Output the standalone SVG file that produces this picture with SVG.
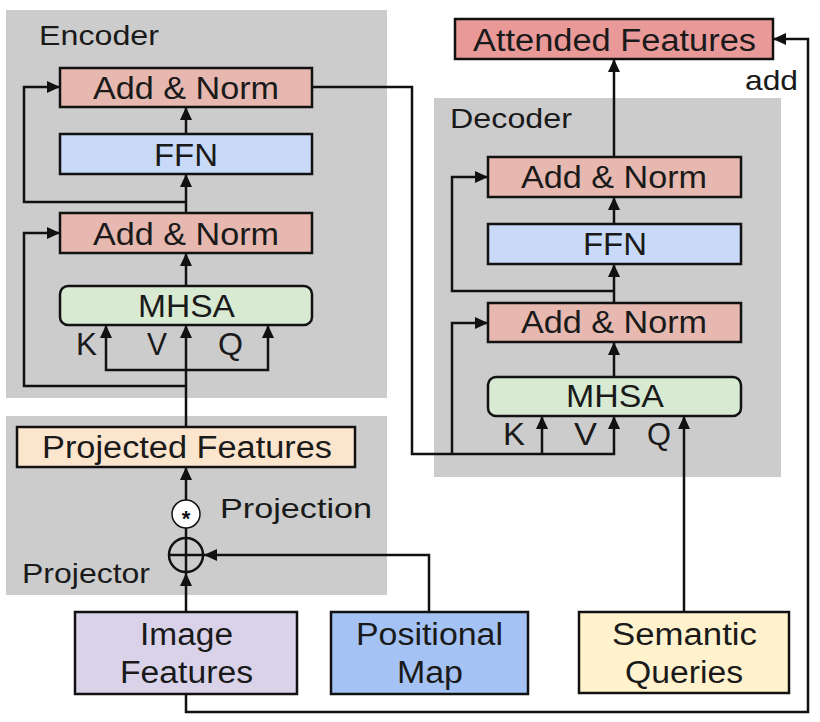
<svg xmlns="http://www.w3.org/2000/svg" width="820" height="722" viewBox="0 0 820 722">
<style>
.grp{fill:#cccccc}
.box{stroke:#111;stroke-width:2.5}
.an{fill:#e6b8af}
.ffn{fill:#c9daf8}
.mhsa{fill:#d9ead3}
.t{font-family:"Liberation Sans",Arial,sans-serif;font-size:31px;fill:#1a1a1a;text-anchor:middle}
.lbl{font-family:"Liberation Sans",Arial,sans-serif;font-size:28px;fill:#1a1a1a}
.c{fill:none;stroke:#111;stroke-width:2.5}
</style>
<defs>
<marker id="ah" markerUnits="userSpaceOnUse" markerWidth="14" markerHeight="12" refX="13" refY="6" orient="auto">
<path d="M0,0 L13,6 L0,12 Z" fill="#111"/>
</marker>
</defs>
<rect width="820" height="722" fill="#ffffff"/>
<g id="encoder">
<rect class="grp" x="6" y="10" width="381" height="388"/>
<text class="lbl" x="39" y="45" textLength="120" lengthAdjust="spacingAndGlyphs">Encoder</text>
</g>
<g id="projector">
<rect class="grp" x="6" y="416" width="381" height="179"/>
<text class="lbl" x="22" y="583" textLength="128" lengthAdjust="spacingAndGlyphs">Projector</text>
<text class="lbl" x="220" y="518" textLength="152" lengthAdjust="spacingAndGlyphs">Projection</text>
</g>
<g id="decoder">
<rect class="grp" x="434" y="98" width="347" height="379"/>
<text class="lbl" x="450" y="128" textLength="122" lengthAdjust="spacingAndGlyphs">Decoder</text>
</g>
<g id="connectors">
<path class="c" d="M186,427 V325" marker-end="url(#ah)"/>
<path class="c" d="M186,370 H106 V325" marker-end="url(#ah)"/>
<path class="c" d="M186,370 H268 V325" marker-end="url(#ah)"/>
<path class="c" d="M186,386 H24 V233 H60" marker-end="url(#ah)"/>
<path class="c" d="M186,286 V253" marker-end="url(#ah)"/>
<path class="c" d="M186,213 V174" marker-end="url(#ah)"/>
<path class="c" d="M186,202 H24 V87 H60" marker-end="url(#ah)"/>
<path class="c" d="M186,134 V107" marker-end="url(#ah)"/>
<path class="c" d="M312,87 H412 V454 H614 V416" marker-end="url(#ah)"/>
<path class="c" d="M542,454 V416" marker-end="url(#ah)"/>
<path class="c" d="M452,454 V323 H488" marker-end="url(#ah)"/>
<path class="c" d="M614,377 V342" marker-end="url(#ah)"/>
<path class="c" d="M614,303 V264" marker-end="url(#ah)"/>
<path class="c" d="M614,291 H452 V177 H488" marker-end="url(#ah)"/>
<path class="c" d="M614,224 V197" marker-end="url(#ah)"/>
<path class="c" d="M614,157 V59" marker-end="url(#ah)"/>
<path class="c" d="M684,612 V416" marker-end="url(#ah)"/>
<path class="c" d="M186,612 V573" marker-end="url(#ah)"/>
<path class="c" d="M429,612 V555 H204" marker-end="url(#ah)"/>
<path class="c" d="M186,537 V528"/>
<path class="c" d="M186,500 V467" marker-end="url(#ah)"/>
<path class="c" d="M186,694 V712 H808 V39 H773" marker-end="url(#ah)"/>
</g>
<g id="enc-addnorm1">
<rect class="box an" x="60" y="68" width="252" height="39"/>
<text class="t" x="186" y="99" textLength="186" lengthAdjust="spacingAndGlyphs">Add &amp; Norm</text>
</g>
<g id="enc-ffn">
<rect class="box ffn" x="60" y="134" width="252" height="40"/>
<text class="t" x="186" y="166" textLength="64" lengthAdjust="spacingAndGlyphs">FFN</text>
</g>
<g id="enc-addnorm2">
<rect class="box an" x="60" y="213" width="252" height="40"/>
<text class="t" x="186" y="245" textLength="186" lengthAdjust="spacingAndGlyphs">Add &amp; Norm</text>
</g>
<g id="enc-mhsa">
<rect class="box mhsa" x="60" y="286" width="252" height="39" rx="8"/>
<text class="t" x="186.5" y="317" textLength="97" lengthAdjust="spacingAndGlyphs">MHSA</text>
</g>
<g id="enc-kvq">
<text class="t" x="86.5" y="355" textLength="21" lengthAdjust="spacingAndGlyphs">K</text>
<text class="t" x="157" y="355" textLength="20" lengthAdjust="spacingAndGlyphs">V</text>
<text class="t" x="230.5" y="355" textLength="25" lengthAdjust="spacingAndGlyphs">Q</text>
</g>
<g id="dec-addnorm1">
<rect class="box an" x="488" y="157" width="253" height="40"/>
<text class="t" x="614" y="188" textLength="186" lengthAdjust="spacingAndGlyphs">Add &amp; Norm</text>
</g>
<g id="dec-ffn">
<rect class="box ffn" x="488" y="224" width="253" height="40"/>
<text class="t" x="615" y="255" textLength="64" lengthAdjust="spacingAndGlyphs">FFN</text>
</g>
<g id="dec-addnorm2">
<rect class="box an" x="488" y="303" width="253" height="39"/>
<text class="t" x="614" y="333" textLength="186" lengthAdjust="spacingAndGlyphs">Add &amp; Norm</text>
</g>
<g id="dec-mhsa">
<rect class="box mhsa" x="488" y="377" width="253" height="39" rx="8"/>
<text class="t" x="615" y="407" textLength="98" lengthAdjust="spacingAndGlyphs">MHSA</text>
</g>
<g id="dec-kvq">
<text class="t" x="514" y="445" textLength="22" lengthAdjust="spacingAndGlyphs">K</text>
<text class="t" x="585.5" y="445" textLength="23" lengthAdjust="spacingAndGlyphs">V</text>
<text class="t" x="659" y="445" textLength="24" lengthAdjust="spacingAndGlyphs">Q</text>
</g>
<g id="attended">
<rect class="box" fill="#ea9999" x="455" y="19" width="318" height="40"/>
<text class="t" x="614.5" y="51" textLength="283" lengthAdjust="spacingAndGlyphs">Attended Features</text>
<text class="lbl" x="745" y="90" font-size="29" textLength="53" lengthAdjust="spacingAndGlyphs">add</text>
</g>
<g id="projected">
<rect class="box" fill="#fce5cd" x="17" y="427" width="338" height="40"/>
<text class="t" x="187" y="458" textLength="290" lengthAdjust="spacingAndGlyphs">Projected Features</text>
</g>
<g id="star-op">
<circle cx="186" cy="514" r="14" fill="#ffffff" stroke="#111" stroke-width="1.5"/>
<text x="186" y="526" font-family="Liberation Sans,Arial,sans-serif" font-size="22" font-weight="bold" text-anchor="middle" fill="#111">*</text>
</g>
<g id="plus-op">
<circle cx="186" cy="555" r="17" fill="none" stroke="#111" stroke-width="2.5"/>
<path d="M169,555 H203 M186,538 V572" stroke="#111" stroke-width="2.5"/>
</g>
<g id="image-features">
<rect class="box" fill="#d9d2e9" x="75" y="612" width="222" height="82"/>
<text class="t" x="186.5" y="645" textLength="93" lengthAdjust="spacingAndGlyphs">Image</text>
<text class="t" x="186.5" y="683" textLength="133" lengthAdjust="spacingAndGlyphs">Features</text>
</g>
<g id="positional-map">
<rect class="box" fill="#a4c2f4" x="331" y="612" width="197" height="82"/>
<text class="t" x="429.5" y="645" textLength="147" lengthAdjust="spacingAndGlyphs">Positional</text>
<text class="t" x="430" y="683" textLength="66" lengthAdjust="spacingAndGlyphs">Map</text>
</g>
<g id="semantic-queries">
<rect class="box" fill="#fff2cc" x="579" y="612" width="210" height="81"/>
<text class="t" x="684.5" y="645" textLength="145" lengthAdjust="spacingAndGlyphs">Semantic</text>
<text class="t" x="684" y="683" textLength="118" lengthAdjust="spacingAndGlyphs">Queries</text>
</g>
</svg>
